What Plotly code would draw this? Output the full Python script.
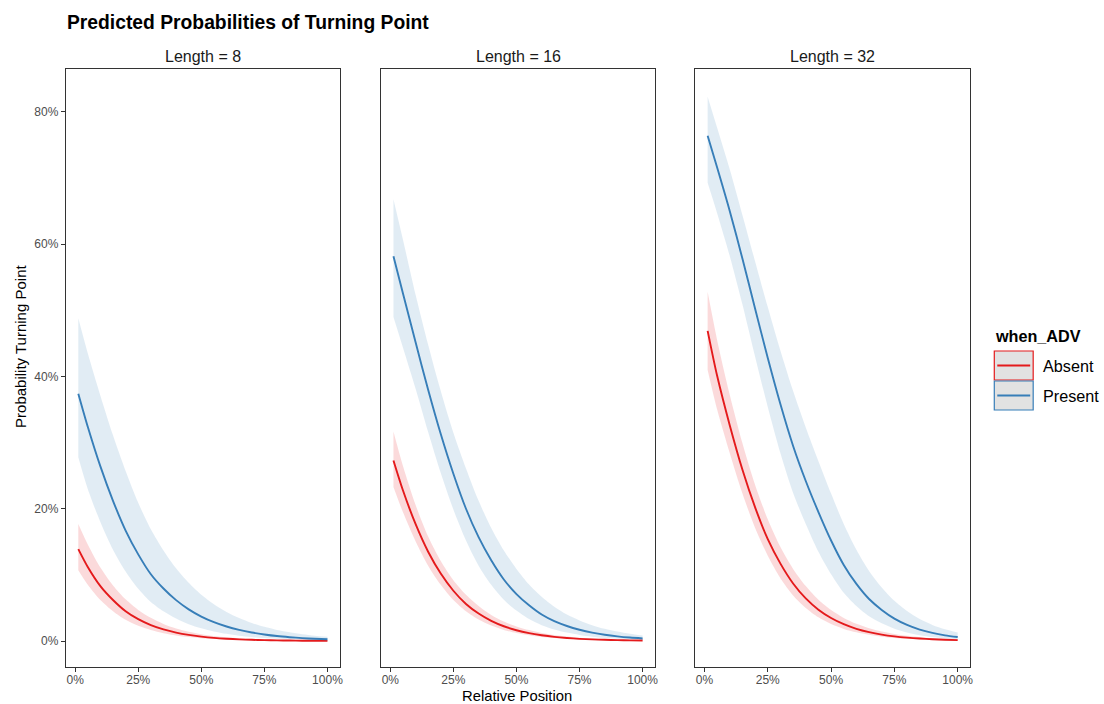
import plotly.graph_objects as go

# ---------------- data ----------------
rel_pos = [0.0125, 0.05, 0.10, 0.15, 0.20, 0.25, 0.30, 0.35, 0.40, 0.45, 0.50,
           0.55, 0.60, 0.65, 0.70, 0.75, 0.80, 0.85, 0.90, 0.95, 1.00]
lengths = ["8", "16", "32"]

# Length = 8
absent_8 = [0.139, 0.112, 0.083, 0.062, 0.045, 0.033, 0.024, 0.0175, 0.0127, 0.0092, 0.0067,
            0.0048, 0.0035, 0.0025, 0.0018, 0.0013, 0.00096, 0.0007, 0.0005, 0.00036, 0.00026]
absent_8_hi = [0.177, 0.146, 0.111, 0.084, 0.063, 0.047, 0.035, 0.0258, 0.019, 0.014, 0.0103,
               0.0076, 0.0056, 0.0041, 0.003, 0.0022, 0.0016, 0.0012, 0.00088, 0.00064, 0.00047]
absent_8_lo = [0.107, 0.085, 0.062, 0.045, 0.032, 0.023, 0.0166, 0.0119, 0.0085, 0.006, 0.0043,
               0.0031, 0.0022, 0.00156, 0.0011, 0.00078, 0.00056, 0.0004, 0.00029, 0.0002, 0.00014]
present_8 = [0.374, 0.324, 0.264, 0.212, 0.167, 0.131, 0.101, 0.0794, 0.0618, 0.0479, 0.037,
             0.0285, 0.0219, 0.0168, 0.0129, 0.0099, 0.0075, 0.0058, 0.0044, 0.0034, 0.0026]
present_8_hi = [0.488, 0.435, 0.371, 0.311, 0.257, 0.209, 0.169, 0.137, 0.110, 0.088, 0.070,
                0.0556, 0.044, 0.0347, 0.0272, 0.0214, 0.0168, 0.0132, 0.0103, 0.0081, 0.0063]
present_8_lo = [0.278, 0.230, 0.180, 0.138, 0.105, 0.079, 0.059, 0.0449, 0.0339, 0.0255, 0.0192,
                0.0144, 0.0108, 0.0081, 0.006, 0.0045, 0.0034, 0.0025, 0.0019, 0.0014, 0.001]

# Length = 16
absent_16 = [0.273, 0.228, 0.177, 0.135, 0.102, 0.076, 0.056, 0.0415, 0.0305, 0.0223, 0.0163,
             0.0119, 0.0087, 0.0063, 0.0046, 0.0033, 0.0024, 0.0018, 0.0013, 0.00093, 0.00068]
absent_16_hi = [0.317, 0.265, 0.206, 0.158, 0.121, 0.092, 0.070, 0.053, 0.0395, 0.0296, 0.0221,
                0.0165, 0.0123, 0.0091, 0.0068, 0.005, 0.0037, 0.0028, 0.002, 0.0015, 0.0011]
absent_16_lo = [0.233, 0.195, 0.151, 0.114, 0.085, 0.062, 0.045, 0.0326, 0.0234, 0.0168, 0.012,
                0.0086, 0.0061, 0.0044, 0.0031, 0.0022, 0.0016, 0.0011, 0.0008, 0.00057, 0.0004]
present_16 = [0.582, 0.526, 0.452, 0.380, 0.313, 0.253, 0.200, 0.157, 0.122, 0.093, 0.071,
              0.054, 0.040, 0.030, 0.0227, 0.017, 0.0126, 0.0094, 0.007, 0.0052, 0.0039]
present_16_hi = [0.668, 0.607, 0.524, 0.448, 0.378, 0.315, 0.261, 0.212, 0.171, 0.137, 0.109,
                 0.0855, 0.067, 0.0519, 0.040, 0.0311, 0.024, 0.0184, 0.0142, 0.0109, 0.0083]
present_16_lo = [0.490, 0.444, 0.382, 0.316, 0.254, 0.199, 0.152, 0.114, 0.085, 0.0624, 0.046,
                 0.0332, 0.024, 0.0175, 0.0127, 0.0092, 0.0066, 0.0048, 0.0035, 0.0025, 0.0018]

# Length = 32
absent_32 = [0.469, 0.401, 0.326, 0.259, 0.202, 0.154, 0.117, 0.087, 0.0644, 0.0474, 0.0348,
             0.0254, 0.0184, 0.0134, 0.0097, 0.007, 0.0051, 0.0037, 0.0027, 0.0019, 0.0014]
absent_32_hi = [0.528, 0.455, 0.372, 0.299, 0.236, 0.184, 0.142, 0.109, 0.083, 0.0623, 0.0468,
                0.0349, 0.026, 0.0193, 0.0143, 0.0106, 0.0078, 0.0058, 0.0043, 0.0031, 0.0023]
absent_32_lo = [0.410, 0.350, 0.284, 0.223, 0.171, 0.129, 0.095, 0.069, 0.050, 0.0359, 0.0257,
                0.0183, 0.0131, 0.0093, 0.0066, 0.0047, 0.0033, 0.0024, 0.0017, 0.0012, 0.0008]
present_32 = [0.764, 0.716, 0.650, 0.578, 0.5025, 0.428, 0.358, 0.295, 0.242, 0.195, 0.152,
              0.115, 0.0863, 0.0635, 0.047, 0.0339, 0.0244, 0.0173, 0.0123, 0.0086, 0.006]
present_32_hi = [0.823, 0.776, 0.713, 0.644, 0.574, 0.505, 0.439, 0.378, 0.323, 0.272, 0.223,
                 0.177, 0.138, 0.106, 0.081, 0.0607, 0.0452, 0.0332, 0.0244, 0.0176, 0.0127]
present_32_lo = [0.693, 0.647, 0.582, 0.509, 0.430, 0.354, 0.284, 0.224, 0.177, 0.135, 0.101,
                 0.073, 0.053, 0.0375, 0.0269, 0.0187, 0.013, 0.0089, 0.0061, 0.0042, 0.0028]

x_ticks = [0, 0.25, 0.5, 0.75, 1.0]
x_tick_labels = ["0%", "25%", "50%", "75%", "100%"]
y_ticks = [0, 0.2, 0.4, 0.6, 0.8]
y_tick_labels = ["0%", "20%", "40%", "60%", "80%"]

series = {
    "8": {"Absent": (absent_8, absent_8_hi, absent_8_lo), "Present": (present_8, present_8_hi, present_8_lo)},
    "16": {"Absent": (absent_16, absent_16_hi, absent_16_lo), "Present": (present_16, present_16_hi, present_16_lo)},
    "32": {"Absent": (absent_32, absent_32_hi, absent_32_lo), "Present": (present_32, present_32_hi, present_32_lo)},
}

# ---------------- styling ----------------
W, H = 1104, 704
FONT = "Liberation Sans, Arial, Helvetica, sans-serif"
line_col = {"Absent": "#E41A1C", "Present": "#377EB8"}
fill_col = {"Absent": "rgba(228,26,28,0.16)", "Present": "rgba(55,126,184,0.15)"}

def px_x(x):
    return x / W

def px_y(y):
    return 1 - y / H

panel_px = [(66, 341), (382, 657), (697, 973)]
plot_top, plot_bottom = 69, 667

fig = go.Figure()

for i, L in enumerate(lengths):
    xa = "x" if i == 0 else f"x{i+1}"
    ya = "y" if i == 0 else f"y{i+1}"
    for grp in ["Absent", "Present"]:
        mid, hi, lo = series[L][grp]
        fig.add_trace(go.Scatter(x=rel_pos, y=hi, mode="lines", line=dict(width=0, shape="spline", smoothing=0.8),
                                 hoverinfo="skip", showlegend=False, xaxis=xa, yaxis=ya))
        fig.add_trace(go.Scatter(x=rel_pos, y=lo, mode="lines", line=dict(width=0, shape="spline", smoothing=0.8),
                                 fill="tonexty", fillcolor=fill_col[grp],
                                 hoverinfo="skip", showlegend=False, xaxis=xa, yaxis=ya))
    for grp in ["Absent", "Present"]:
        mid, hi, lo = series[L][grp]
        fig.add_trace(go.Scatter(x=rel_pos, y=mid, mode="lines", name=grp,
                                 line=dict(color=line_col[grp], width=1.9, shape="spline", smoothing=0.8),
                                 showlegend=False, xaxis=xa, yaxis=ya))

axis_common = dict(showline=True, mirror=True, linecolor="#333333", linewidth=1.1,
                   showgrid=False, zeroline=False, ticks="outside", ticklen=4,
                   tickcolor="#333333", tickwidth=1.1,
                   tickfont=dict(family=FONT, size=12, color="#4D4D4D"))

layout = dict(
    width=W, height=H,
    margin=dict(l=0, r=0, t=0, b=0),
    paper_bgcolor="white", plot_bgcolor="white",
    font=dict(family=FONT, color="black"),
    showlegend=False,
)

for i, (x0, x1) in enumerate(panel_px):
    xk = "xaxis" if i == 0 else f"xaxis{i+1}"
    yk = "yaxis" if i == 0 else f"yaxis{i+1}"
    xa_anchor = "y" if i == 0 else f"y{i+1}"
    ya_anchor = "x" if i == 0 else f"x{i+1}"
    layout[xk] = dict(axis_common, domain=[px_x(x0), px_x(x1)], anchor=xa_anchor,
                      range=[-0.037, 1.05], tickvals=x_ticks, ticktext=x_tick_labels,
                      ticklabelstandoff=-2)
    ydict = dict(axis_common, domain=[px_y(plot_bottom), px_y(plot_top)], anchor=ya_anchor,
                 range=[-0.0393, 0.865], tickvals=y_ticks, ticktext=y_tick_labels)
    if i > 0:
        ydict.update(showticklabels=False, ticks="")
    layout[yk] = ydict

fig.update_layout(**layout)

annotations = []
# title
annotations.append(dict(text="<b>Predicted Probabilities of Turning Point</b>", x=px_x(65), y=px_y(22),
                        xref="paper", yref="paper", xanchor="left", yanchor="middle", showarrow=False,
                        font=dict(family=FONT, size=19.3, color="black")))
# facet strips
for L, (x0, x1) in zip(lengths, panel_px):
    annotations.append(dict(text=f"Length = {L}", x=px_x((x0 + x1) / 2), y=px_y(56),
                            xref="paper", yref="paper", xanchor="center", yanchor="middle", showarrow=False,
                            font=dict(family=FONT, size=16, color="#1A1A1A")))
# axis titles
annotations.append(dict(text="Relative Position", x=px_x(518), y=px_y(696),
                        xref="paper", yref="paper", xanchor="center", yanchor="middle", showarrow=False,
                        borderpad=0,
                        font=dict(family=FONT, size=14.8, color="black")))
annotations.append(dict(text="Probability Turning Point", x=px_x(20), y=px_y(346),
                        xref="paper", yref="paper", xanchor="center", yanchor="middle", showarrow=False,
                        textangle=-90, font=dict(family=FONT, size=15, color="black")))
# legend
annotations.append(dict(text="<b>when_ADV</b>", x=px_x(996), y=px_y(336),
                        xref="paper", yref="paper", xanchor="left", yanchor="middle", showarrow=False,
                        font=dict(family=FONT, size=16.2, color="black")))
shapes = []
for k, grp in enumerate(["Absent", "Present"]):
    top = 351 + k * 30
    shapes.append(dict(type="rect", xref="paper", yref="paper",
                       x0=px_x(997), x1=px_x(1036), y0=px_y(top + 29), y1=px_y(top),
                       fillcolor="#E2E2E2", line=dict(color=line_col[grp], width=1.2)))
    shapes.append(dict(type="line", xref="paper", yref="paper",
                       x0=px_x(1000), x1=px_x(1033), y0=px_y(top + 14.5), y1=px_y(top + 14.5),
                       line=dict(color=line_col[grp], width=1.9)))
    annotations.append(dict(text=grp, x=px_x(1044), y=px_y(top + 15),
                            xref="paper", yref="paper", xanchor="left", yanchor="middle", showarrow=False,
                            font=dict(family=FONT, size=16.2, color="black")))

fig.update_layout(annotations=annotations, shapes=shapes)

fig.write_html("out.html")
